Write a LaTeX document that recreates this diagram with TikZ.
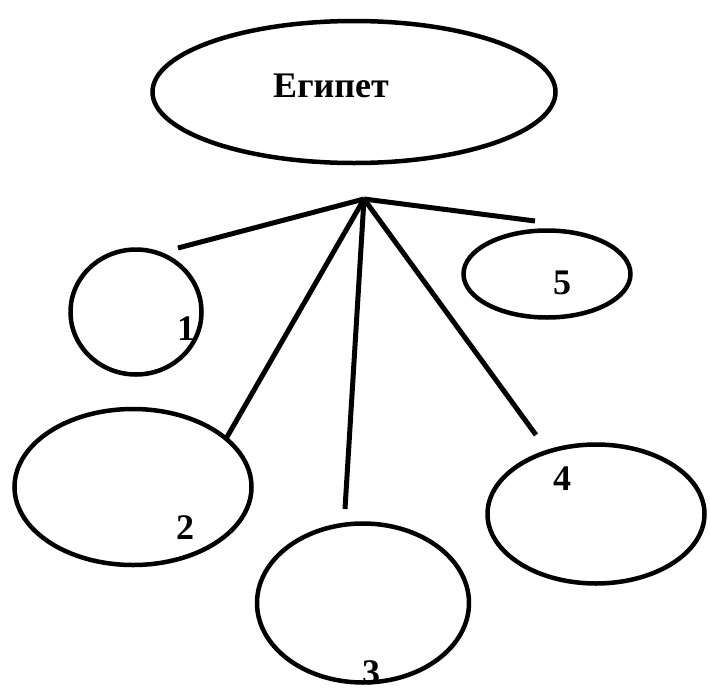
\documentclass[tikz,border=0pt]{standalone}
\usepackage{fontspec}
\setmainfont{Liberation Serif}
\usetikzlibrary{shapes.geometric}
\begin{document}
\begin{tikzpicture}[x=1pt,y=-1pt,
  blob/.style={draw=black,line width=4.5pt,ellipse,inner sep=0pt},
  spoke/.style={draw=black,line width=5pt},
  lbl/.style={font=\bfseries\fontsize{36}{36}\selectfont,inner sep=0pt}]
\useasboundingbox[fill=white] (0,0) rectangle (710,694);
% ellipses
\node[blob,minimum width=403pt,minimum height=142pt] (egypt) at (354,92) {};
\node[blob,minimum width=131pt,minimum height=125pt] (e1) at (136,312) {};
\node[blob,minimum width=237pt,minimum height=156pt] (e2) at (133,487) {};
\node[blob,minimum width=212pt,minimum height=159pt] (e3) at (363,603) {};
\node[blob,minimum width=217pt,minimum height=139pt] (e4) at (596,514) {};
\node[blob,minimum width=167pt,minimum height=87pt] (e5) at (547,274) {};
% texts
\node[lbl] (t0) at (331,86) {Египет};
\node[lbl] (t1) at (186,329) {1};
\node[lbl] (t2) at (185,528) {2};
\node[lbl] (t3) at (371,673) {3};
\node[lbl] (t4) at (562,479) {4};
\node[lbl] (t5) at (562,283) {5};
% hub and spokes
\coordinate (hub) at (364,199);
\coordinate (end1) at (178,248);
\coordinate (end2) at (227,437);
\coordinate (end3) at (345,509);
\coordinate (end4) at (536,435);
\coordinate (end5) at (535,221);
\draw[spoke] (hub) -- (end1);
\draw[spoke] (hub) -- (end2);
\draw[spoke] (hub) -- (end3);
\draw[spoke] (hub) -- (end4);
\draw[spoke] (hub) -- (end5);
\end{tikzpicture}
\end{document}
